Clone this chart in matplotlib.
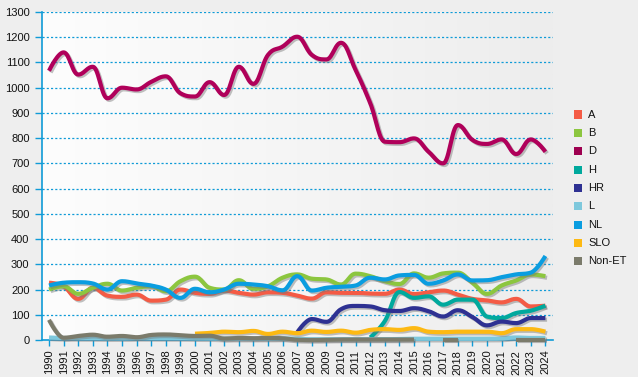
import numpy as np
import matplotlib
matplotlib.use("Agg")
import matplotlib.pyplot as plt
import matplotlib.patheffects as pe
from matplotlib.patches import Rectangle
from matplotlib.colors import LinearSegmentedColormap

plt.rcParams['font.family'] = ['Liberation Sans', 'DejaVu Sans']

years = list(range(1990, 2025))
nan = np.nan

A = [227, 213, 163, 207, 176, 171, 180, 156, 160, 200, 187, 183,
     196, 187, 180, 189, 187, 176, 164, 189, 187, 187, 184, 183, 200, 182,
     189, 196, 180, 163, 157, 149, 163, 133, 136]
B = [200, 213, 183, 207, 223, 196, 207, 213, 193, 233, 251, 207,
     200, 237, 203, 213, 247, 260, 243, 240, 220, 263, 253, 233, 222, 264,
     247, 264, 267, 227, 183, 216, 236, 260, 253]
D = [1067, 1140, 1052, 1083, 958, 1000, 993, 1023, 1045, 978,
     965, 1022, 971, 1083, 1015, 1130, 1163, 1202, 1130, 1112,
     1178, 1070, 939, 786, 784, 799, 746, 700, 852, 793,
     777, 795, 737, 795, 746]
H = [nan] * 22 + [10, 75, 190, 167, 173, 140, 160, 160, 93, 87, 107, 116, 136]
HR = [nan] * 17 + [30, 83, 72, 122, 135, 133, 118, 115, 126, 114, 93, 118, 91,
                   58, 73, 67, 87, 87]
L = [10, 8, 8, 8, 7, 7, 8, 8, 8, 8, 7, 7, 5, 5, 5, 5, 6, 5, 3, 3, 3, 3, 3, 3,
     4, 5, 5, 5, 5, 5, 5, 6, 10, 8, 8]
NL = [216, 227, 229, 224, 200, 233, 224, 216, 200, 167, 203, 189,
      200, 223, 220, 213, 197, 253, 196, 207, 211, 216, 247, 240, 256, 258,
      223, 236, 260, 236, 237, 249, 260, 267, 333]
SLO = [nan] * 10 + [25, 28, 33, 31, 36, 24, 33, 27, 37, 32, 37, 29, 40, 43,
                    40, 47, 33, 31, 33, 33, 33, 27, 43, 43, 33]
NonET = [80, 9, 16, 21, 13, 16, 11, 20, 22, 19, 16, 17, 6, 8, 7, 8, 7, 1, 0,
         1, 2, 2, 2, 2, 2, 2, nan, 1, 1, nan, nan, nan, 1, 1, 1]

series_names = ['A', 'B', 'D', 'H', 'HR', 'L', 'NL', 'SLO', 'Non-ET']
series_values = [A, B, D, H, HR, L, NL, SLO, NonET]
colors = ['#f45b45', '#8cc63f', '#b0005a', '#00a99d', '#2e3192', '#7ec8dc',
          '#0a9de0', '#fdb913', '#7b7b6b']
legend_colors = ['#f45b45', '#8cc63f', '#9e0050', '#00a99d', '#2e3192',
                 '#7ec8dc', '#0a9de0', '#fdb913', '#7b7b6b']


def spline_segment(xs, ys, smoothing=1.5, n=16):
    """Highcharts-style spline through given points (rendering only)."""
    m = len(xs)
    if m == 1:
        return np.array(xs), np.array(ys)
    lc = [(xs[i], ys[i]) for i in range(m)]
    rc = [(xs[i], ys[i]) for i in range(m)]
    den = smoothing + 1
    for i in range(1, m - 1):
        px, py = xs[i], ys[i]
        lx, ly = xs[i - 1], ys[i - 1]
        nx, ny = xs[i + 1], ys[i + 1]
        lcx = (smoothing * px + lx) / den
        lcy = (smoothing * py + ly) / den
        rcx = (smoothing * px + nx) / den
        rcy = (smoothing * py + ny) / den
        corr = ((rcy - lcy) * (rcx - px)) / (rcx - lcx) + py - rcy
        lcy += corr
        rcy += corr
        if lcy > ly and lcy > py:
            lcy = max(ly, py)
            rcy = 2 * py - lcy
        elif lcy < ly and lcy < py:
            lcy = min(ly, py)
            rcy = 2 * py - lcy
        if rcy > ny and rcy > py:
            rcy = max(ny, py)
            lcy = 2 * py - rcy
        elif rcy < ny and rcy < py:
            rcy = min(ny, py)
            lcy = 2 * py - rcy
        lc[i] = (lcx, lcy)
        rc[i] = (rcx, rcy)
    outx, outy = [xs[0]], [ys[0]]
    t = np.linspace(0, 1, n)[1:]
    for i in range(m - 1):
        p0 = np.array([xs[i], ys[i]])
        p1 = np.array(rc[i])
        p2 = np.array(lc[i + 1])
        p3 = np.array([xs[i + 1], ys[i + 1]])
        pts = ((1 - t) ** 3)[:, None] * p0 + (3 * (1 - t) ** 2 * t)[:, None] * p1 \
            + (3 * (1 - t) * t ** 2)[:, None] * p2 + (t ** 3)[:, None] * p3
        outx.extend(pts[:, 0])
        outy.extend(pts[:, 1])
    return np.array(outx), np.array(outy)


def segments(xv, yv):
    segs, cur = [], []
    for x, y in zip(xv, yv):
        if y is None or (isinstance(y, float) and np.isnan(y)):
            if cur:
                segs.append(cur)
            cur = []
        else:
            cur.append((x, y))
    if cur:
        segs.append(cur)
    return segs


fig = plt.figure(figsize=(6.38, 3.77), dpi=100)
fig.patch.set_facecolor('#eeeeee')
W, Hh = 638, 377
ax = fig.add_axes([42 / W, (Hh - 340) / Hh, (553 - 42) / W, (340 - 12) / Hh])
ax.set_facecolor('none')

# gradient plot background
grad = np.linspace(0, 1, 256)[None, :]
cmap = LinearSegmentedColormap.from_list('bg', ['#fdfdfd', '#ededed'])
ax.imshow(grad, cmap=cmap, aspect='auto', extent=[0, 1, 0, 1],
          transform=ax.transAxes, zorder=0)

ax.set_xlim(1989.52, 2024.52)
ax.set_ylim(0, 1300)

blue = '#0f9bd7'
ax.set_yticks(range(0, 1301, 100))
ax.set_xticks(years)
ax.set_xticklabels([str(y) for y in years], rotation=90)
for v in range(100, 1301, 100):
    ax.axhline(v, color=blue, lw=0.9, ls=(0, (1.7, 1.7)), zorder=1)

for sp in ['top', 'right']:
    ax.spines[sp].set_visible(False)
for sp in ['left', 'bottom']:
    ax.spines[sp].set_color(blue)
    ax.spines[sp].set_linewidth(1.2)
ax.spines['left'].set_zorder(2)
ax.tick_params(axis='y', colors=blue, length=5, width=1, labelsize=8,
               labelcolor='#111111', pad=4)
ax.tick_params(axis='x', colors=blue, length=4, width=1, labelsize=8,
               labelcolor='#111111', pad=3)

for k, (name, vals, col) in enumerate(zip(series_names, series_values, colors)):
    for seg in segments(years, vals):
        sx, sy = zip(*seg)
        px, py = spline_segment(list(sx), list(sy))
        ax.plot(px, py, color=col, lw=3.0, solid_capstyle='butt',
                solid_joinstyle='round', clip_on=False, zorder=3 + k,
                path_effects=[pe.SimpleLineShadow(offset=(1.2, -1.2),
                                                  shadow_color='#777777',
                                                  alpha=0.45),
                              pe.Normal()])

# legend
for i, (name, col) in enumerate(zip(series_names, legend_colors)):
    yc = 114.5 + i * 18.35
    fig.patches.append(Rectangle((574 / W, (Hh - yc - 4) / Hh), 8 / W, 8 / Hh,
                                 transform=fig.transFigure, facecolor=col,
                                 edgecolor='none'))
    fig.text(588 / W, (Hh - yc) / Hh, name, fontsize=8, color='#111111',
             va='center', ha='left')

fig.savefig('out.png', dpi=100, facecolor=fig.get_facecolor())
